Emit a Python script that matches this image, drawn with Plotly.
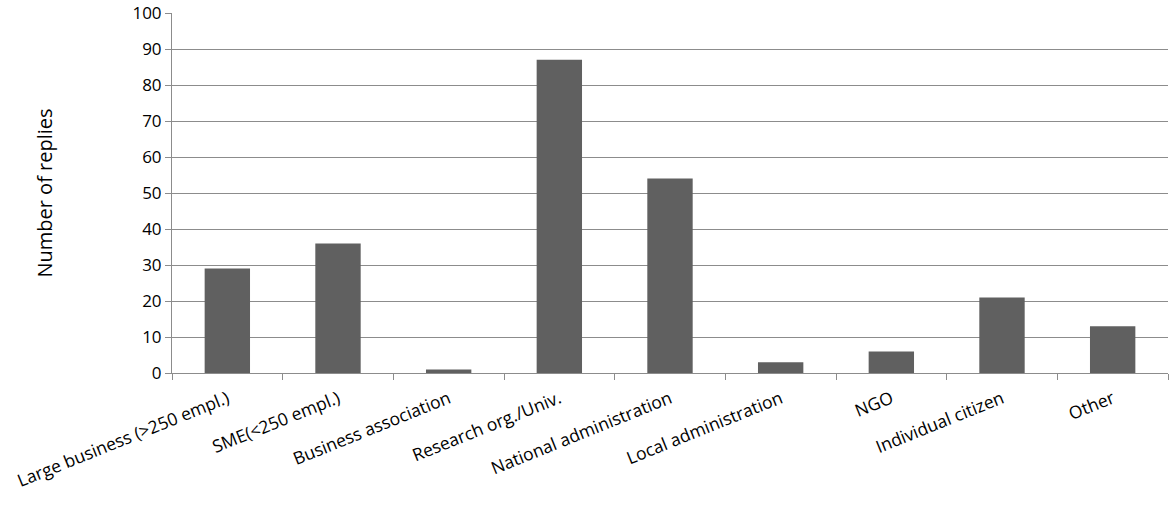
import plotly.graph_objects as go

categories = ["Large business (>250 empl.)", "SME(<250 empl.)", "Business association",
              "Research org./Univ.", "National administration", "Local administration",
              "NGO", "Individual citizen", "Other"]
replies = [29, 36, 1, 87, 54, 3, 6, 21, 13]
y_ticks = [0, 10, 20, 30, 40, 50, 60, 70, 80, 90, 100]

fig = go.Figure(go.Bar(x=categories, y=replies, marker_color="#606060",
                       marker_line_width=0, width=0.41))

font = "Open Sans, Liberation Sans, sans-serif"
fig.update_layout(
    width=1169, height=506,
    margin=dict(l=172, r=1, t=13, b=133, autoexpand=False),
    plot_bgcolor="white", paper_bgcolor="white",
    font=dict(family=font, size=16, color="black"),
    showlegend=False,
)
fig.update_yaxes(range=[0, 100.01], tickvals=y_ticks, showgrid=True, gridcolor="#8c8c8c",
                 gridwidth=1, showline=True, linecolor="#8c8c8c", linewidth=1,
                 ticks="outside", ticklen=6, tickcolor="#8c8c8c", zeroline=False,
                 automargin=False, ticklabeloverflow="allow",
                 title=dict(text="Number of replies", font=dict(size=20), standoff=74),
                 tickfont=dict(size=17))
fig.update_xaxes(showline=True, linecolor="#8c8c8c", linewidth=1, ticks="outside",
                 ticklen=6, tickcolor="#8c8c8c", tickson="boundaries", tickangle=-22,
                 automargin=False, showgrid=False, ticklabeloverflow="allow",
                 ticklabelstandoff=8, tickfont=dict(size=17.5))

fig.write_html("out.html", config={"displayModeBar": False},
               post_script="document.body.style.margin='0';document.body.style.overflow='hidden';")
